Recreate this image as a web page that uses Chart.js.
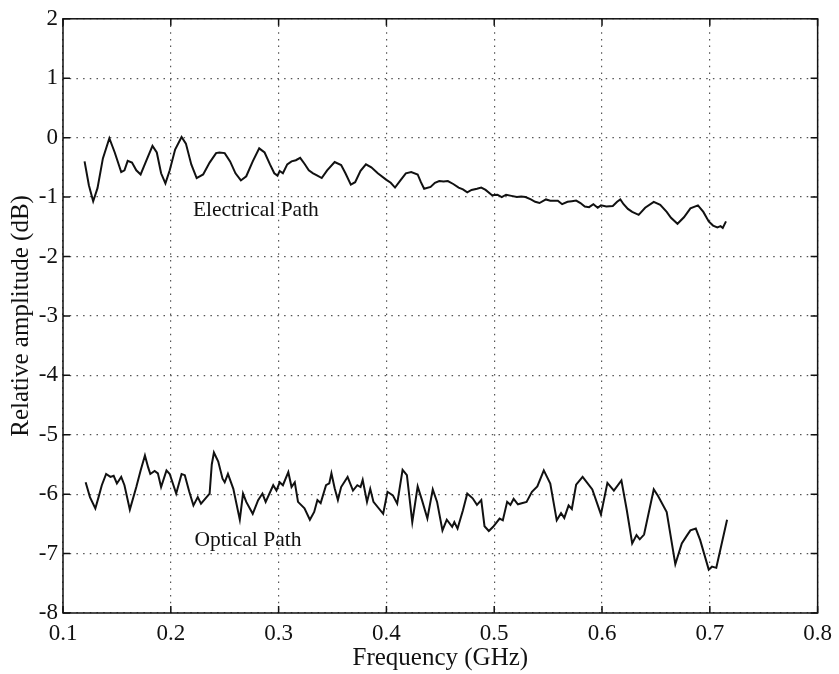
<!DOCTYPE html>
<html>
<head>
<meta charset="utf-8">
<script src="https://cdn.jsdelivr.net/npm/chart.js@4/dist/chart.umd.min.js"></script>
<style>
  body { margin: 0; background: #fff; }
  canvas { display: block; }
</style>
</head>
<body>
<canvas id="respuestaChart" width="839" height="674"></canvas>
<script>
const xTicks = [0.1, 0.2, 0.3, 0.4, 0.5, 0.6, 0.7, 0.8];
const yTicks = [2, 1, 0, -1, -2, -3, -4, -5, -6, -7, -8];

const elecFreq = [
  0.120, 0.124, 0.128, 0.132, 0.137, 0.143, 0.148, 0.154, 0.157, 0.160,
  0.164, 0.168, 0.172, 0.177, 0.183, 0.187, 0.191, 0.195, 0.199, 0.204,
  0.210, 0.214, 0.219, 0.224, 0.230, 0.236, 0.242, 0.245, 0.250, 0.255,
  0.260, 0.265, 0.270, 0.276, 0.282, 0.287, 0.292, 0.296, 0.299, 0.301,
  0.304, 0.308, 0.312, 0.316, 0.320, 0.324, 0.328, 0.332, 0.336, 0.340,
  0.345, 0.352, 0.358, 0.362, 0.367, 0.371, 0.376, 0.381, 0.386, 0.392,
  0.400, 0.404, 0.408, 0.413, 0.418, 0.423, 0.429, 0.432, 0.435, 0.441,
  0.445, 0.449, 0.453, 0.457, 0.462, 0.467, 0.471, 0.475, 0.479, 0.484,
  0.488, 0.492, 0.498, 0.503, 0.507, 0.511, 0.516, 0.521, 0.525, 0.529,
  0.534, 0.538, 0.542, 0.548, 0.552, 0.556, 0.559, 0.563, 0.568, 0.572,
  0.576, 0.580, 0.584, 0.588, 0.592, 0.596, 0.599, 0.604, 0.610, 0.614,
  0.617, 0.620, 0.624, 0.628, 0.634, 0.640, 0.648, 0.654, 0.660, 0.664,
  0.670, 0.676, 0.682, 0.689, 0.694, 0.699, 0.703, 0.707, 0.710, 0.712,
  0.715
];
const elecAmp = [
  -0.40, -0.80, -1.07, -0.85, -0.35, -0.01, -0.25, -0.58, -0.55, -0.39,
  -0.42, -0.55, -0.62, -0.40, -0.14, -0.25, -0.60, -0.77, -0.55, -0.20,
  0.01, -0.10, -0.45, -0.68, -0.62, -0.42, -0.26, -0.25, -0.26, -0.40,
  -0.60, -0.72, -0.65, -0.40, -0.18, -0.25, -0.45, -0.60, -0.64, -0.56,
  -0.60, -0.45, -0.40, -0.38, -0.34, -0.44, -0.55, -0.60, -0.64, -0.68,
  -0.55, -0.41, -0.46, -0.60, -0.79, -0.75, -0.56, -0.45, -0.50, -0.60,
  -0.71, -0.76, -0.84, -0.72, -0.60, -0.58, -0.62, -0.75, -0.86, -0.83,
  -0.76, -0.73, -0.74, -0.73, -0.78, -0.84, -0.87, -0.92, -0.88, -0.86,
  -0.84, -0.88, -0.97, -0.96, -1.00, -0.96, -0.98, -1.00, -0.99, -1.00,
  -1.04, -1.08, -1.10, -1.04, -1.06, -1.06, -1.06, -1.12, -1.08, -1.07,
  -1.06, -1.10, -1.16, -1.17, -1.12, -1.18, -1.14, -1.16, -1.15, -1.08,
  -1.04, -1.12, -1.20, -1.25, -1.30, -1.18, -1.08, -1.13, -1.25, -1.35,
  -1.45, -1.34, -1.19, -1.14, -1.25, -1.41, -1.48, -1.51, -1.49, -1.52,
  -1.41
];

const optFreq = [
  0.121, 0.125, 0.130, 0.133, 0.136, 0.140, 0.144, 0.147, 0.150, 0.154,
  0.157, 0.162, 0.168, 0.172, 0.176, 0.179, 0.181, 0.185, 0.188, 0.191,
  0.196, 0.199, 0.205, 0.210, 0.213, 0.217, 0.221, 0.225, 0.228, 0.236,
  0.238, 0.240, 0.244, 0.248, 0.250, 0.253, 0.258, 0.264, 0.267, 0.270,
  0.276, 0.281, 0.285, 0.288, 0.295, 0.298, 0.301, 0.304, 0.309, 0.312,
  0.315, 0.318, 0.324, 0.329, 0.333, 0.336, 0.339, 0.344, 0.347, 0.349,
  0.352, 0.355, 0.358, 0.364, 0.369, 0.373, 0.376, 0.378, 0.382, 0.385,
  0.388, 0.397, 0.401, 0.406, 0.410, 0.415, 0.419, 0.424, 0.429, 0.433,
  0.438, 0.443, 0.447, 0.452, 0.456, 0.461, 0.463, 0.466, 0.471, 0.475,
  0.480, 0.484, 0.488, 0.491, 0.495, 0.499, 0.505, 0.508, 0.512, 0.515,
  0.518, 0.522, 0.530, 0.535, 0.540, 0.546, 0.552, 0.558, 0.562, 0.565,
  0.569, 0.572, 0.576, 0.582, 0.591, 0.599, 0.605, 0.611, 0.618, 0.623,
  0.628, 0.632, 0.635, 0.639, 0.648, 0.652, 0.660, 0.668, 0.674, 0.679,
  0.682, 0.687, 0.691, 0.699, 0.702, 0.706, 0.716
];
const optAmp = [
  -5.80, -6.05, -6.24, -6.05, -5.85, -5.66, -5.71, -5.69, -5.82, -5.71,
  -5.85, -6.26, -5.88, -5.60, -5.35, -5.55, -5.66, -5.61, -5.65, -5.88,
  -5.60, -5.66, -5.99, -5.66, -5.68, -5.95, -6.19, -6.05, -6.16, -5.99,
  -5.50, -5.30, -5.45, -5.74, -5.80, -5.66, -5.91, -6.43, -5.99, -6.13,
  -6.33, -6.10, -5.99, -6.13, -5.85, -5.94, -5.80, -5.85, -5.63, -5.88,
  -5.80, -6.13, -6.24, -6.43, -6.30, -6.10, -6.15, -5.85, -5.82, -5.65,
  -5.90, -6.10, -5.88, -5.71, -5.94, -5.85, -5.88, -5.76, -6.13, -5.91,
  -6.13, -6.33, -5.96, -6.02, -6.16, -5.59, -5.68, -6.47, -5.87, -6.10,
  -6.41, -5.92, -6.13, -6.61, -6.43, -6.55, -6.47, -6.58, -6.27, -5.99,
  -6.07, -6.18, -6.10, -6.54, -6.62, -6.55, -6.41, -6.44, -6.13, -6.18,
  -6.08, -6.17, -6.13, -5.96, -5.87, -5.60, -5.82, -6.44, -6.32, -6.40,
  -6.19, -6.25, -5.84, -5.71, -5.92, -6.34, -5.81, -5.94, -5.77, -6.27,
  -6.83, -6.69, -6.76, -6.68, -5.92, -6.03, -6.30, -7.18, -6.83, -6.69,
  -6.61, -6.58, -6.77, -7.27, -7.22, -7.24, -6.43
];

// etiquetas dentro del grafico: texto, frecuencia, amplitud
const curveLabels = ["Electrical Path", "Optical Path"];
const curveLabelFreq = [0.2205, 0.222];
const curveLabelAmp = [-1.22, -6.78];

const fuente = "'Liberation Serif', 'Times New Roman', serif";

function aPuntos(xs, ys) {
  return xs.map((x, i) => ({ x: x, y: ys[i] }));
}

// caja negra alrededor del area y marcas hacia adentro en los cuatro lados
const marcoPlugin = {
  id: "marco",
  afterDatasetsDraw(chart) {
    const { ctx, chartArea: a, scales } = chart;
    const largo = 7;
    ctx.save();
    ctx.strokeStyle = "#111";
    ctx.lineWidth = 1.5;
    ctx.strokeRect(a.left, a.top, a.right - a.left, a.bottom - a.top);
    ctx.beginPath();
    xTicks.forEach(v => {
      const px = scales.x.getPixelForValue(v);
      ctx.moveTo(px, a.bottom); ctx.lineTo(px, a.bottom - largo);
      ctx.moveTo(px, a.top); ctx.lineTo(px, a.top + largo);
    });
    yTicks.forEach(v => {
      const py = scales.y.getPixelForValue(v);
      ctx.moveTo(a.left, py); ctx.lineTo(a.left + largo, py);
      ctx.moveTo(a.right, py); ctx.lineTo(a.right - largo, py);
    });
    ctx.stroke();

    ctx.fillStyle = "#111";
    ctx.font = "21.5px " + fuente;
    ctx.textAlign = "left";
    ctx.textBaseline = "middle";
    curveLabels.forEach((t, i) => {
      ctx.fillText(t, scales.x.getPixelForValue(curveLabelFreq[i]),
        scales.y.getPixelForValue(curveLabelAmp[i]));
    });
    ctx.restore();
  }
};

function graficarRespuesta(canvas) {
  const grilla = { color: "#555", lineWidth: 1.2, drawTicks: false, tickLength: 0 };
  const borde = { display: false, dash: [1.5, 5.2] };

  new Chart(canvas, {
    type: "line",
    data: {
      datasets: [
        { label: curveLabels[0], data: aPuntos(elecFreq, elecAmp) },
        { label: curveLabels[1], data: aPuntos(optFreq, optAmp) }
      ]
    },
    options: {
      responsive: false,
      animation: false,
      layout: { padding: { top: 17, right: 20, left: 0, bottom: 0 } },
      elements: {
        line: { borderColor: "#111", borderWidth: 2, tension: 0 },
        point: { radius: 0 }
      },
      plugins: { legend: { display: false }, tooltip: { enabled: false } },
      scales: {
        x: {
          type: "linear",
          min: 0.1,
          max: 0.8,
          afterBuildTicks: s => { s.ticks = xTicks.map(v => ({ value: v })); },
          afterFit: s => { s.height = 61; },
          grid: grilla,
          border: borde,
          ticks: {
            color: "#111",
            padding: 7,
            maxRotation: 0,
            font: { family: fuente, size: 23 },
            callback: v => v.toFixed(1)
          },
          title: {
            display: true,
            text: "Frequency (GHz)",
            color: "#111",
            font: { family: fuente, size: 25 },
            padding: { top: 0, bottom: 1 }
          }
        },
        y: {
          type: "linear",
          min: -8,
          max: 2,
          afterBuildTicks: s => { s.ticks = yTicks.map(v => ({ value: v })); },
          afterFit: s => { s.width = 63; },
          grid: grilla,
          border: borde,
          ticks: {
            color: "#111",
            padding: 5,
            font: { family: fuente, size: 23 },
            callback: v => String(v)
          },
          title: {
            display: true,
            text: "Relative amplitude (dB)",
            color: "#111",
            font: { family: fuente, size: 25 },
            padding: { top: 6, bottom: 0 }
          }
        }
      }
    },
    plugins: [marcoPlugin]
  });
}

document.addEventListener("DOMContentLoaded", () => {
  graficarRespuesta(document.getElementById("respuestaChart"));
});
</script>
</body>
</html>
